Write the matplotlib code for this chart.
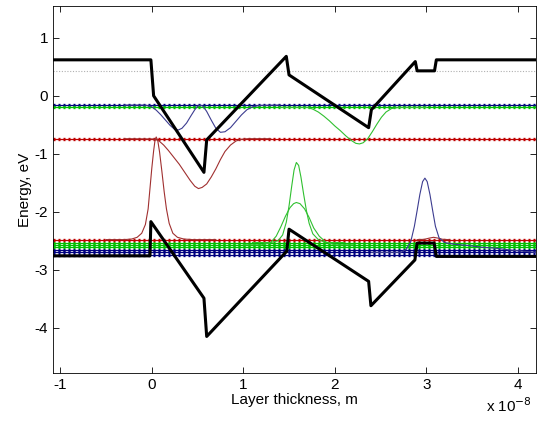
import numpy as np
import matplotlib
matplotlib.use("Agg")
import matplotlib.pyplot as plt

plt.rcParams['font.family'] = ['Liberation Sans', 'DejaVu Sans']
plt.rcParams['axes.unicode_minus'] = False

# x in units of 1e-8 m, energies in eV
# band edges (thick black)
cb_x = [-1.08, -0.01, 0.02, 0.57, 0.60, 1.47, 1.50, 2.37, 2.40, 2.88, 2.90, 3.09, 3.11, 4.20]
cb_y = [0.62, 0.62, 0.00, -1.32, -0.76, 0.68, 0.36, -0.55, -0.24, 0.59, 0.43, 0.43, 0.62, 0.62]
vb_x = [-1.08, -0.02, -0.01, 0.57, 0.60, 1.475, 1.50, 2.37, 2.395, 2.876, 2.90, 3.086, 3.11, 4.20]
vb_y = [-2.76, -2.76, -2.17, -3.49, -4.15, -2.68, -2.30, -3.20, -3.62, -2.83, -2.54, -2.54, -2.77, -2.77]

fermi = 0.43

# energy levels (dotted)
cb_levels = [-0.16, -0.20, -0.74]
cb_level_cols = ['#00007f', '#00c000', '#bf0000']
vb_levels = [-2.74, -2.70, -2.66, -2.61, -2.57, -2.53, -2.48]
vb_level_cols = ['#00007f', '#00007f', '#00007f', '#00c000', '#00c000', '#00c000', '#bf0000']

# wavefunctions (thin)
wf_cb_blue_x = [-0.30, -0.07, 0.00, 0.05, 0.10, 0.15, 0.20, 0.25, 0.29, 0.33, 0.38, 0.43, 0.47, 0.50, 0.53,
                0.56, 0.60, 0.65, 0.70, 0.75, 0.80, 0.86, 0.92, 0.98, 1.04, 1.10, 1.18, 1.40]
wf_cb_blue_y = [-0.16, -0.16, -0.19, -0.25, -0.33, -0.42, -0.51, -0.58, -0.59, -0.56, -0.47, -0.34, -0.24, -0.18, -0.16,
                -0.18, -0.27, -0.42, -0.56, -0.63, -0.62, -0.55, -0.44, -0.33, -0.24, -0.19, -0.165, -0.16]

wf_cb_red_x = [-0.30, 0.03, 0.08, 0.13, 0.18, 0.24, 0.30, 0.36, 0.42, 0.47, 0.51, 0.55, 0.60, 0.65, 0.70,
               0.75, 0.80, 0.86, 0.92, 0.98, 1.05, 1.30]
wf_cb_red_y = [-0.74, -0.745, -0.78, -0.85, -0.94, -1.06, -1.18, -1.32, -1.46, -1.56, -1.60, -1.58, -1.52, -1.40, -1.26,
               -1.10, -0.96, -0.85, -0.78, -0.75, -0.74, -0.74]

wf_cb_green_x = [1.40, 1.70, 1.76, 1.82, 1.88, 1.94, 2.00, 2.06, 2.12, 2.18, 2.23, 2.27, 2.31, 2.36, 2.41,
                 2.46, 2.51, 2.56, 2.62, 2.70, 3.00]
wf_cb_green_y = [-0.20, -0.20, -0.23, -0.28, -0.35, -0.43, -0.52, -0.60, -0.69, -0.77, -0.82, -0.83, -0.81, -0.74, -0.62,
                 -0.49, -0.37, -0.28, -0.22, -0.20, -0.20]

wf_vb_red_x = [-0.50, -0.30, -0.22, -0.16, -0.11, -0.07, -0.04, -0.02, 0.00, 0.02, 0.035, 0.048, 0.065, 0.085,
               0.11, 0.135, 0.16, 0.19, 0.23, 0.28, 0.35, 0.45, 0.70]
wf_vb_red_y = [-2.48, -2.48, -2.47, -2.44, -2.37, -2.22, -1.95, -1.60, -1.25, -0.95, -0.77, -0.71, -0.77, -0.97,
               -1.30, -1.65, -1.95, -2.20, -2.37, -2.44, -2.47, -2.48, -2.48]

wf_vb_green1_x = [1.10, 1.30, 1.38, 1.43, 1.47, 1.50, 1.53, 1.555, 1.58, 1.605, 1.63, 1.66, 1.69, 1.72, 1.76,
                  1.82, 1.90, 2.10]
wf_vb_green1_y = [-2.53, -2.53, -2.50, -2.40, -2.18, -1.90, -1.55, -1.28, -1.15, -1.20, -1.40, -1.70, -1.98, -2.20, -2.38,
                  -2.48, -2.53, -2.53]

wf_vb_green2_x = [1.00, 1.20, 1.30, 1.36, 1.41, 1.46, 1.51, 1.55, 1.58, 1.62, 1.67, 1.72, 1.77, 1.83, 1.90,
                  2.00, 2.20]
wf_vb_green2_y = [-2.57, -2.57, -2.53, -2.42, -2.26, -2.08, -1.93, -1.86, -1.84, -1.86, -1.95, -2.10, -2.28, -2.42, -2.52,
                  -2.57, -2.57]

wf_vb_blue_x = [2.40, 2.60, 2.72, 2.78, 2.83, 2.87, 2.90, 2.93, 2.96, 2.985, 3.01, 3.04, 3.07, 3.10, 3.14,
                3.20, 3.30, 3.45, 3.60, 3.77, 3.92, 4.06, 4.20]
wf_vb_blue_y = [-2.70, -2.70, -2.70, -2.65, -2.52, -2.25, -1.98, -1.70, -1.48, -1.42, -1.48, -1.70, -1.98, -2.25, -2.45,
                -2.53, -2.56, -2.58, -2.61, -2.63, -2.66, -2.68, -2.70]

wf_vb_red2_x = [2.90, 2.98, 3.03, 3.08, 3.13, 3.18, 3.25]
wf_vb_red2_y = [-2.48, -2.475, -2.455, -2.44, -2.455, -2.475, -2.48]

fig = plt.figure(figsize=(5.44, 4.21), dpi=100)
ax = fig.add_axes([0.0974, 0.114, 0.888, 0.872])

ax.plot([-1.08, 4.2], [fermi, fermi], color='#b0b0b0', lw=0.8, ls=(0, (1, 1.5)))

for lev, c in zip(cb_levels + vb_levels, cb_level_cols + vb_level_cols):
    ax.axhline(lev, color=c, lw=0.9)
    ax.axhline(lev, color=c, lw=2.4, ls=(0, (0.6, 0.9)))

thin = dict(lw=0.8, solid_joinstyle='round')
ax.plot(wf_cb_blue_x, wf_cb_blue_y, color='#3c3c90', **thin)
ax.plot(wf_cb_red_x, wf_cb_red_y, color='#a03030', **thin)
ax.plot(wf_cb_green_x, wf_cb_green_y, color='#30c030', **thin)
ax.plot(wf_vb_red_x, wf_vb_red_y, color='#a03030', **thin)
ax.plot(wf_vb_red2_x, wf_vb_red2_y, color='#a03030', **thin)
ax.plot(wf_vb_green1_x, wf_vb_green1_y, color='#30c030', **thin)
ax.plot(wf_vb_green2_x, wf_vb_green2_y, color='#30c030', **thin)
ax.plot(wf_vb_blue_x, wf_vb_blue_y, color='#3c3c90', **thin)

ax.plot(cb_x, cb_y, color='black', lw=2.2)
ax.plot(vb_x, vb_y, color='black', lw=2.2)

ax.set_xlim(-1.08, 4.2)
ax.set_ylim(-4.78, 1.55)
ax.set_xticks([-1, 0, 1, 2, 3, 4])
ax.set_yticks([-4, -3, -2, -1, 0, 1])
ax.tick_params(direction='in', top=True, right=True, length=4, labelsize=11, width=0.6)
for s in ax.spines.values():
    s.set_linewidth(0.6)
ax.set_xlabel('Layer thickness, m', fontsize=11, labelpad=1)
ax.set_ylabel('Energy, eV', fontsize=11, labelpad=2)
fig.text(0.893, 0.022, r'x 10$^{-8}$', fontsize=11)

fig.savefig('out.png', dpi=100)
